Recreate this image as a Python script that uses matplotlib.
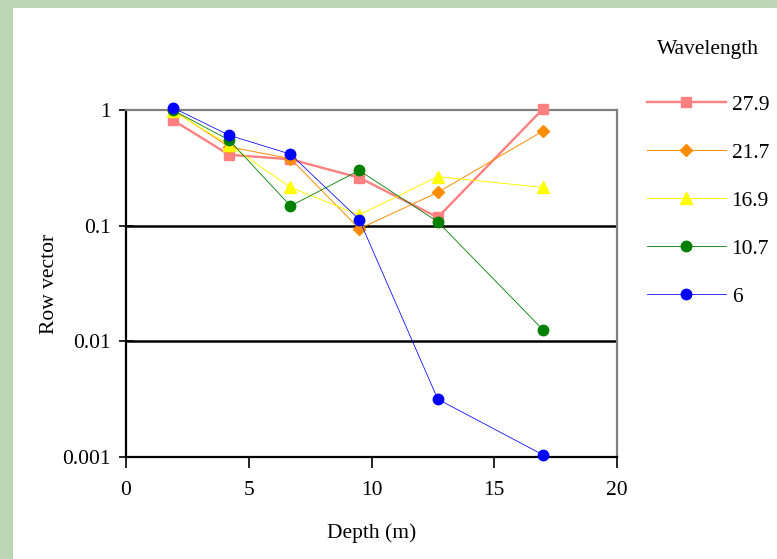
import matplotlib
matplotlib.use("Agg")
import matplotlib.pyplot as plt
from matplotlib.patches import Rectangle
from matplotlib.ticker import FixedLocator, NullLocator, FixedFormatter

depth = [1.9, 4.2, 6.7, 9.5, 12.7, 17.0]
series_labels = ["27.9", "21.7", "16.9", "10.7", "6"]
v_27_9 = [0.82, 0.41, 0.375, 0.26, 0.118, 1.03]
v_21_7 = [1.0, 0.48, 0.38, 0.094, 0.194, 0.66]
v_16_9 = [0.98, 0.50, 0.214, 0.124, 0.265, 0.214]
v_10_7 = [1.0, 0.55, 0.148, 0.30, 0.108, 0.0125]
v_6 = [1.05, 0.605, 0.415, 0.113, 0.00316, 0.00104]
yticks = [0.001, 0.01, 0.1, 1]
ytick_labels = ["0.001", "0.01", "0.1", "1"]
xticks = [0, 5, 10, 15, 20]

plt.rcParams['font.family'] = ['Liberation Serif', 'DejaVu Serif']
FS = 15.5

fig = plt.figure(figsize=(7.77, 5.59), dpi=100)
fig.patch.set_facecolor('#bcd5b2')
fig.patches.append(Rectangle((13/777, 0), 1 - 13/777, 1 - 8/559,
                             transform=fig.transFigure, facecolor='white',
                             edgecolor='none', zorder=-5))

ax = fig.add_axes([126/777, 102/559, (617-126)/777, (457-110)/559])
ax.set_zorder(2)
ax.set_facecolor('white')

styles = [
    (v_27_9, '#ff8080', 's', 1.7, 7.5),
    (v_21_7, '#ff8c00', 'D', 0.7, 6.5),
    (v_16_9, '#ffff00', '^', 0.7, 8.5),
    (v_10_7, '#008000', 'o', 0.6, 7.5),
    (v_6, '#0000ff', 'o', 0.55, 7.5),
]
for (vals, col, mk, lw, ms), lab in zip(styles, series_labels):
    ax.plot(depth, vals, color=col, marker=mk, lw=lw, ms=ms,
            markeredgecolor=col, label=lab, clip_on=False, zorder=3)

ax.set_yscale('log')
ax.set_ylim(0.001, 1)
ax.set_xlim(0, 20)
ax.yaxis.set_major_locator(FixedLocator(yticks))
ax.yaxis.set_major_formatter(FixedFormatter(ytick_labels))
ax.yaxis.set_minor_locator(NullLocator())
ax.set_xticks(xticks)
ax.tick_params(axis='y', direction='inout', length=10, width=1.2, labelsize=FS, pad=6)
ax.tick_params(axis='x', direction='out', length=8, width=1.2, labelsize=FS, pad=9)

for yv in yticks[1:3]:
    ax.axhline(yv, color='black', lw=1.8, zorder=1.5)

ax.spines['left'].set_color('black')
ax.spines['left'].set_linewidth(1.6)
ax.spines['bottom'].set_color('black')
ax.spines['bottom'].set_linewidth(1.6)
ax.spines['top'].set_color('#808080')
ax.spines['top'].set_linewidth(1.6)
ax.spines['right'].set_color('#808080')
ax.spines['right'].set_linewidth(1.6)

ax.set_xlabel('Depth (m)', fontsize=FS, labelpad=17)
ax.set_ylabel('Row vector', fontsize=FS, labelpad=2)

leg = fig.legend(loc='upper left', bbox_to_anchor=(638/777, 1 - 31/559),
                 frameon=False, title='Wavelength', fontsize=FS,
                 title_fontsize=FS, handlelength=3.7, handletextpad=0.25,
                 labelspacing=1.3, borderaxespad=0)
leg._legend_box.sep = 26

fig.savefig('out.png', dpi=100, facecolor=fig.get_facecolor())
